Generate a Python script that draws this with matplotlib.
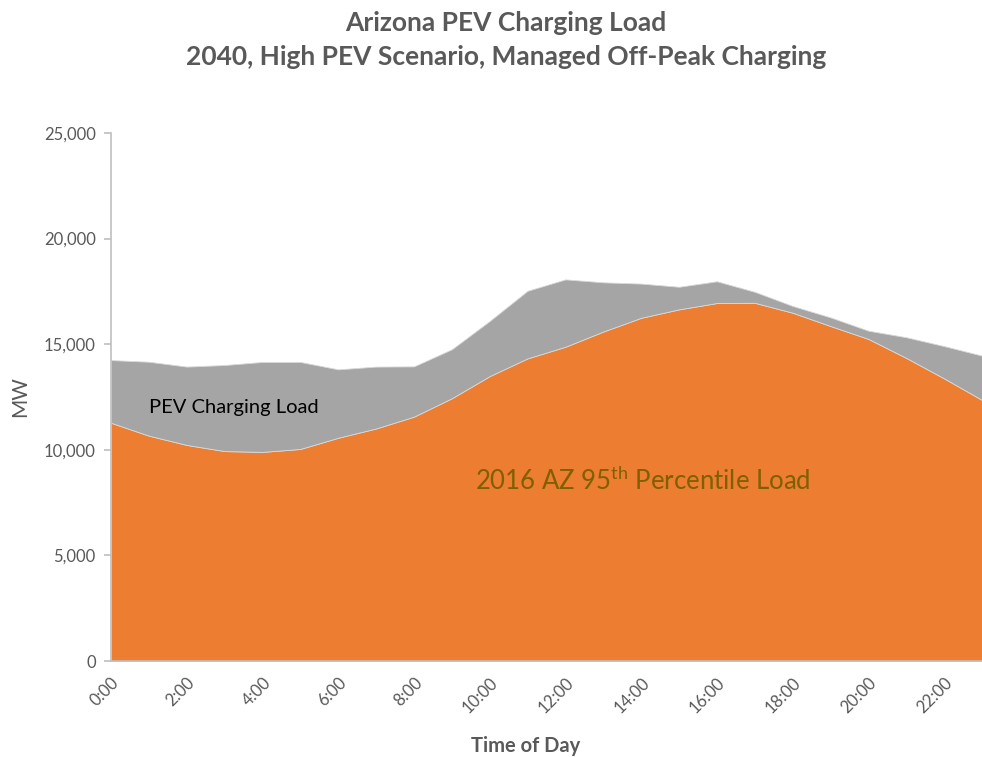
import numpy as np
import matplotlib
matplotlib.use("Agg")
from matplotlib import pyplot as plt

# hourly data, MW
hours = list(range(24))
base_load = [11280, 10670, 10230, 9940, 9900, 10040, 10570, 11010, 11570, 12440,
             13490, 14330, 14880, 15600, 16250, 16650, 16950, 16960, 16490, 15860,
             15250, 14350, 13380, 12360]
pev_load = [2970, 3500, 3710, 4075, 4260, 4120, 3240, 2930, 2380, 2320,
            2610, 3200, 3190, 2330, 1620, 1070, 1030, 520, 320, 410,
            390, 980, 1530, 2100]
tick_hours = list(range(0, 24, 2))
tick_labels = ["%d:00" % h for h in tick_hours]
y_ticks = [0, 5000, 10000, 15000, 20000, 25000]

plt.rcParams['font.family'] = ['Lato', 'DejaVu Sans']
txt_gray = '#595959'

fig = plt.figure(figsize=(9.82, 7.57), dpi=100)
ax = fig.add_axes([0.113, 0.1268, 0.887, 0.6975])

ax.stackplot(hours, base_load, pev_load, colors=['#ED7D31', '#A5A5A5'],
             edgecolor='#D9D9D9', linewidth=0.6)

ax.set_xlim(0, 23)
ax.set_ylim(0, 25000)
ax.set_yticks(y_ticks)
ax.set_yticklabels(["{:,}".format(v) for v in y_ticks])
ax.set_xticks(tick_hours)
ax.set_xticklabels(tick_labels, rotation=45, ha='right', va='top',
                   rotation_mode='anchor')

for s in ['top', 'right']:
    ax.spines[s].set_visible(False)
for s in ['left', 'bottom']:
    ax.spines[s].set_color('#BFBFBF')
    ax.spines[s].set_linewidth(1.2)
ax.tick_params(axis='y', colors='#BFBFBF', labelcolor=txt_gray, labelsize=12,
               length=5, width=1.2, pad=6)
ax.tick_params(axis='x', length=0, labelcolor=txt_gray, labelsize=12, pad=10)

ax.set_ylabel('MW', fontsize=15, color=txt_gray, labelpad=10)
ax.set_xlabel('Time of Day', fontsize=14.5, fontweight='bold', color=txt_gray)
ax.xaxis.set_label_coords(0.476, -0.142)

fig.text(0.515, 0.970, 'Arizona PEV Charging Load', ha='center', va='center',
         fontsize=19, fontweight='bold', color=txt_gray)
fig.text(0.515, 0.925, '2040, High PEV Scenario, Managed Off-Peak Charging',
         ha='center', va='center', fontsize=19, fontweight='bold', color=txt_gray)

ax.text(1.0, 12000, 'PEV Charging Load', fontsize=14.5, color='black',
        va='center', ha='left')
ax.text(9.6, 8550, r'2016 AZ 95$^{\mathregular{th}}$ Percentile Load',
        fontsize=18.5, color='#7F6000', va='center', ha='left')

fig.savefig('out.png', dpi=100)
